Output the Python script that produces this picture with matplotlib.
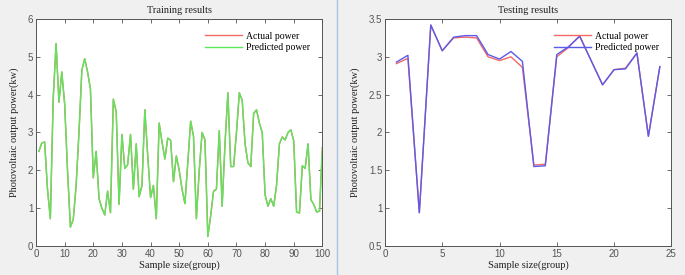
import matplotlib.pyplot as plt
import numpy as np

# ── training data (100 samples) ───────────────────────────────────────
train_x = np.arange(1, 101)
train_pred = [2.50, 2.72, 2.75, 1.50, 0.72, 3.90, 5.35, 3.80, 4.60, 3.75,
              2.00, 0.50, 0.70, 1.60, 3.00, 4.65, 4.95, 4.60, 4.15, 1.80,
              2.50, 1.25, 1.00, 0.82, 1.45, 0.88, 3.88, 3.55, 1.10, 2.95,
              2.05, 2.15, 2.95, 1.50, 2.70, 1.30, 1.60, 3.60, 2.40, 1.28,
              1.60, 0.72, 3.25, 2.75, 2.30, 2.85, 2.80, 1.70, 2.38, 2.00,
              1.50, 1.12, 2.20, 3.30, 2.90, 0.72, 2.00, 3.00, 2.80, 0.25,
              0.80, 1.45, 1.50, 3.05, 1.05, 2.70, 4.05, 2.10, 2.10, 3.00,
              4.05, 3.85, 2.70, 2.20, 2.10, 3.50, 3.60, 3.25, 3.00, 1.35,
              1.05, 1.25, 1.05, 1.60, 2.70, 2.88, 2.80, 3.00, 3.07, 2.78,
              0.90, 0.87, 2.12, 2.05, 2.70, 1.22, 1.10, 0.90, 0.92, 2.60]
train_actual = train_pred  # the two curves overlap almost everywhere

# ── testing data (24 samples) ─────────────────────────────────────────
test_x = np.arange(1, 25)
test_actual = [2.91, 2.98, 0.94, 3.42, 3.08, 3.25, 3.26, 3.25, 3.00, 2.95,
               3.00, 2.86, 1.57, 1.58, 3.00, 3.12, 3.28, 2.95, 2.63, 2.83,
               2.85, 3.05, 1.95, 2.87]
test_pred = [2.93, 3.02, 0.94, 3.42, 3.08, 3.26, 3.28, 3.28, 3.03, 2.97,
             3.07, 2.94, 1.55, 1.56, 3.03, 3.13, 3.27, 2.95, 2.63, 2.83,
             2.84, 3.05, 1.95, 2.87]

SERIF = "Liberation Serif"
SANS = "Liberation Sans"
RED = "#f26a6a"
GREEN = "#5ae85a"
BLUE = "#5b5bea"


def style_axes(ax, title):
    ax.set_title(title, family=SERIF, fontsize=7.5, pad=4, color="#222222")
    ax.set_xlabel("Sample size(group)", family=SERIF, fontsize=7.5,
                  labelpad=1, color="#222222")
    ax.set_ylabel("Photovoltaic output power(kw)", family=SERIF,
                  fontsize=7.5, labelpad=6, color="#222222")
    ax.tick_params(direction="in", top=True, right=True, length=3,
                   width=0.6, colors="#555555", labelsize=7, pad=2)
    for lbl in ax.get_xticklabels() + ax.get_yticklabels():
        lbl.set_family(SANS)
    for sp in ax.spines.values():
        sp.set_color("#555555")
        sp.set_linewidth(0.7)
    leg = ax.legend(loc="upper right", frameon=False, handlelength=3.8,
                    borderaxespad=0.9, labelspacing=0.25, handletextpad=0.4,
                    prop={"family": SERIF, "size": 7})
    return leg


fig = plt.figure(figsize=(6.85, 2.75), dpi=100, facecolor="#f0f0f0")

ax1 = fig.add_axes([0.0526, 0.1055, 0.418, 0.8255])
ax1.plot(train_x, train_actual, color=RED, lw=1.0, label="Actual power")
ax1.plot(train_x, train_pred, color=GREEN, lw=1.0, label="Predicted power")
ax1.set_xlim(0, 100)
ax1.set_ylim(0, 6)
ax1.set_xticks(range(0, 101, 10))
ax1.set_yticks(range(0, 7))
style_axes(ax1, "Training results")

ax2 = fig.add_axes([0.562, 0.1055, 0.418, 0.8255])
ax2.plot(test_x, test_actual, color=RED, lw=1.0, label="Actual power")
ax2.plot(test_x, test_pred, color=BLUE, lw=1.0, label="Predicted power")
ax2.set_xlim(0, 25)
ax2.set_ylim(0.5, 3.5)
ax2.set_xticks(range(0, 26, 5))
ax2.set_yticks(np.arange(0.5, 3.51, 0.5))
ax2.set_yticklabels(["0.5", "1", "1.5", "2", "2.5", "3", "3.5"])
style_axes(ax2, "Testing results")

# window divider between the two panels
fig.add_artist(plt.Line2D([337 / 685, 337 / 685], [0, 1], color="#a6c4e4",
                          lw=1.0, transform=fig.transFigure))

fig.savefig("out.png", dpi=100, facecolor=fig.get_facecolor())
